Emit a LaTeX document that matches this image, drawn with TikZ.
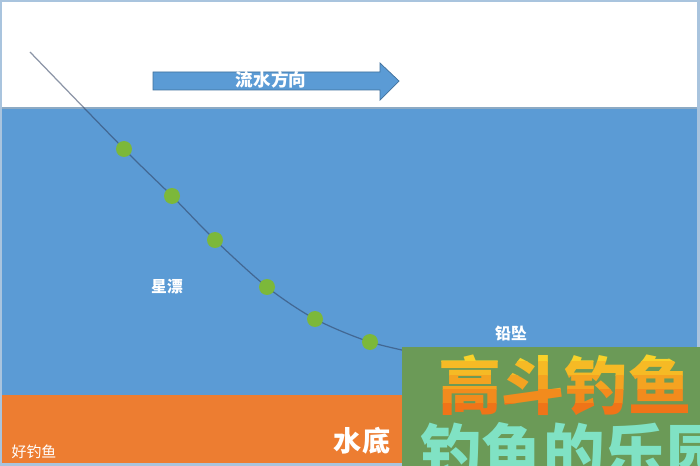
\documentclass[tikz,border=0pt]{standalone}
\usepackage{fontspec}
\newfontfamily\cjk{Noto Sans CJK SC}
\usetikzlibrary{positioning}
\definecolor{waterblue}{HTML}{5B9BD5}
\definecolor{edgeblue}{HTML}{41719C}
\definecolor{bedorange}{HTML}{ED7D31}
\definecolor{floatgreen}{HTML}{7CB83A}
\definecolor{markgreen}{HTML}{6B9A57}
\definecolor{markyellow}{HTML}{F8D22A}
\definecolor{markorange}{HTML}{F07418}
\definecolor{markcyan}{HTML}{80E2C4}
\definecolor{framegray}{HTML}{A9C4DE}
\definecolor{linegray}{HTML}{2F3F5F}

\begin{document}
\begin{tikzpicture}[x=0.02cm,y=-0.02cm,
    tag/.style={text=white,inner sep=0pt,font=\cjk\bfseries\fontsize{9}{10}\selectfont},
    floatdot/.style={circle,fill=floatgreen,minimum size=0.32cm,inner sep=0pt},
    brandtext/.style={anchor=west,inner sep=0pt,font=\cjk\bfseries\fontsize{36}{36}\selectfont}]
    \useasboundingbox (0,0) rectangle (700,466);
    % background layers
    \fill[framegray] (0,0) rectangle (700,466);
    \fill[white] (2,2) rectangle (697,108);
    \fill[waterblue] (2,108) rectangle (697,395);
    \fill[bedorange] (2,395) rectangle (697,463);
    \draw[edgeblue!60,line width=0.6pt] (2,108) -- (697,108);
    % flow direction
    \filldraw[fill=waterblue,draw=edgeblue,line width=0.4pt] (153,72) -- (380,72) -- (380,63) -- (399,81) -- (380,100) -- (380,90) -- (153,90) -- cycle;
    \node[tag,font=\cjk\bfseries\fontsize{10}{11}\selectfont] (flow) at (271,80) {流水方向};
    % fishing line
    \coordinate (tip) at (30,52);
    \coordinate (b1) at (124,149);
    \coordinate (b2) at (172,196);
    \coordinate (b3) at (215,240);
    \coordinate (b4) at (267,287);
    \coordinate (b5) at (315,319);
    \coordinate (b6) at (370,342);
    \coordinate (sink) at (430,356);
    \draw[linegray,opacity=0.55,line width=0.7pt] plot[smooth,tension=0.5] coordinates {(tip) (b1) (b2) (b3) (b4) (b5) (b6) (sink)};
    \foreach \n in {1,...,6}
        \node[floatdot] (f\n) at (b\n) {};
    % labels
    \node[tag] (float) at (167,287) {星漂};
    \node[tag] (lead) at (511,334) {铅坠};
    \node[tag,font=\cjk\bfseries\fontsize{16}{17}\selectfont] (bed) at (362,441) {水底};
    \node[text=white,inner sep=0pt,font=\cjk\fontsize{8.5}{9}\selectfont] (site) at (34,452) {好钓鱼};
    % watermark
    \fill[markgreen] (402,347) rectangle (700,466);
    \foreach \i/\c in {0/0,1/25,2/50,3/75,4/100} {
        \begin{scope}
            \clip (402,347+\i*14) rectangle (700,361+\i*14);
            \node[brandtext,text=markorange!\c!markyellow] (brand\i) at (438,385) {高斗钓鱼};
        \end{scope}
    }
    \begin{scope}
        \clip (402,347) rectangle (700,466);
        \node[brandtext,text=markcyan,font=\cjk\bfseries\fontsize{35}{35}\selectfont] (motto) at (420,452) {钓鱼的乐园};
    \end{scope}
\end{tikzpicture}
\end{document}
